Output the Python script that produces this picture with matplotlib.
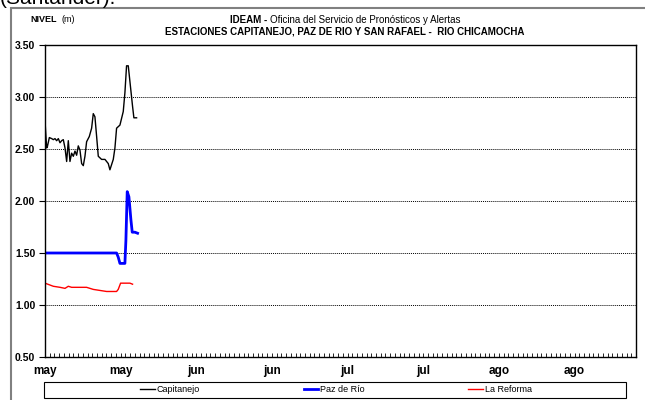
import matplotlib
matplotlib.use("Agg")
import matplotlib.pyplot as plt
from matplotlib.patches import Rectangle
from matplotlib.ticker import MultipleLocator

plt.rcParams['font.family'] = ['Liberation Sans', 'DejaVu Sans']

# days since May 1 / level in m
cap_day = [0, 0.35, 0.49, 0.92, 1.41, 1.76, 2.11, 2.46, 2.82, 3.17, 3.52, 3.87, 4.23, 4.58,
           4.93, 5.28, 5.63, 5.99, 6.34, 6.69, 7.04, 7.39, 7.75, 8.10, 8.45, 8.80, 9.37,
           9.86, 10.21, 10.56, 10.92, 11.27, 11.97, 12.68, 13.38, 13.73, 14.44, 14.79,
           15.14, 15.85, 16.55, 16.90, 17.25, 17.61, 18.10, 18.52, 18.80, 19.37]
cap_lvl = [2.77, 2.51, 2.52, 2.61, 2.60, 2.59, 2.60, 2.58, 2.60, 2.56, 2.58, 2.59, 2.51, 2.38,
           2.58, 2.38, 2.46, 2.43, 2.48, 2.44, 2.53, 2.49, 2.36, 2.34, 2.43, 2.57, 2.62,
           2.70, 2.84, 2.81, 2.62, 2.43, 2.40, 2.40, 2.36, 2.30, 2.40, 2.51,
           2.70, 2.73, 2.86, 3.04, 3.30, 3.30, 3.09, 2.91, 2.80, 2.80]

paz_day = [0, 15.14, 15.49, 15.85, 16.90, 17.11, 17.39, 17.75, 18.17, 18.45, 19.01, 19.58]
paz_lvl = [1.50, 1.50, 1.46, 1.40, 1.40, 1.62, 2.09, 2.04, 1.82, 1.70, 1.70, 1.69]

ref_day = [0, 1.76, 3.17, 4.23, 4.93, 5.63, 8.80, 10.21, 11.62, 13.03, 15.14, 15.49,
           15.99, 17.25, 17.96, 18.52]
ref_lvl = [1.21, 1.18, 1.17, 1.16, 1.18, 1.17, 1.17, 1.15, 1.14, 1.13, 1.13, 1.15,
           1.21, 1.21, 1.21, 1.20]

tick_days = [0, 16, 32, 48, 64, 80, 96, 112]
tick_labels = ['may', 'may', 'jun', 'jun', 'jul', 'jul', 'ago', 'ago']

fig = plt.figure(figsize=(6.45, 4.0), dpi=100)
ax = fig.add_axes([45/645, 1-357/400, 591/645, 312/400])

ax.plot(cap_day, cap_lvl, color='black', lw=1.0, label='Capitanejo')
ax.plot(paz_day, paz_lvl, color='#0000FF', lw=2.0, label='Paz de Río')
ax.plot(ref_day, ref_lvl, color='#FF0000', lw=1.0, label='La Reforma')

ax.set_xlim(0, 125)
ax.set_ylim(0.5, 3.5)
ax.set_yticks([0.5, 1.0, 1.5, 2.0, 2.5, 3.0, 3.5])
ax.set_yticklabels(['%.2f' % v for v in ax.get_yticks()], fontweight='bold', fontsize=7.5)
ax.set_xticks(tick_days)
ax.set_xticklabels(tick_labels, fontweight='bold', fontsize=8.5)
ax.xaxis.set_minor_locator(MultipleLocator(1))
ax.tick_params(axis='x', which='both', direction='in', length=3, width=0.6, pad=6)
ax.tick_params(axis='y', direction='out', length=4, width=0.8, pad=3)
ax.yaxis.grid(True, linestyle=(0, (1, 1)), color='black', lw=0.7)
for s in ax.spines.values():
    s.set_linewidth(1.0)
    s.set_color('black')

# title
fig.text(267/645, 1-20/400, 'IDEAM -', ha='right', va='center', fontsize=7, fontweight='bold')
fig.text(270/645, 1-20/400, 'Oficina del Servicio de Pronósticos y Alertas',
         ha='left', va='center', fontsize=7)
fig.text(345/645, 1-32/400, 'ESTACIONES CAPITANEJO, PAZ DE RIO Y SAN RAFAEL -  RIO CHICAMOCHA',
         ha='center', va='center', fontsize=7, fontweight='bold')
fig.text(30/645, 1-19/400, 'NIVEL', ha='left', va='center', fontsize=6.5, fontweight='bold')
fig.text(61/645, 1-19/400, '(m)', ha='left', va='center', fontsize=6.5)

# page fragments
fig.text(0.0, 1-4/400, '(Santander).', ha='left', va='baseline', fontsize=15)
fig.patches.append(Rectangle((11/645, -0.1), 1.0, 1-8/400+0.1, transform=fig.transFigure,
                             fill=False, edgecolor='#808080', lw=1.5))

# legend box drawn separately, entries centred inside it
fig.patches.append(Rectangle((44/645, 1-398/400), 582/645, 16/400, transform=fig.transFigure,
                             fill=False, edgecolor='black', lw=0.8))
fig.legend(loc='center', bbox_to_anchor=(336/645, 1-390/400), ncol=3, fontsize=6.5,
           frameon=False, handlelength=1.6, handletextpad=0.2, columnspacing=11.5,
           borderaxespad=0, borderpad=0)

fig.savefig('out.png', dpi=100)
